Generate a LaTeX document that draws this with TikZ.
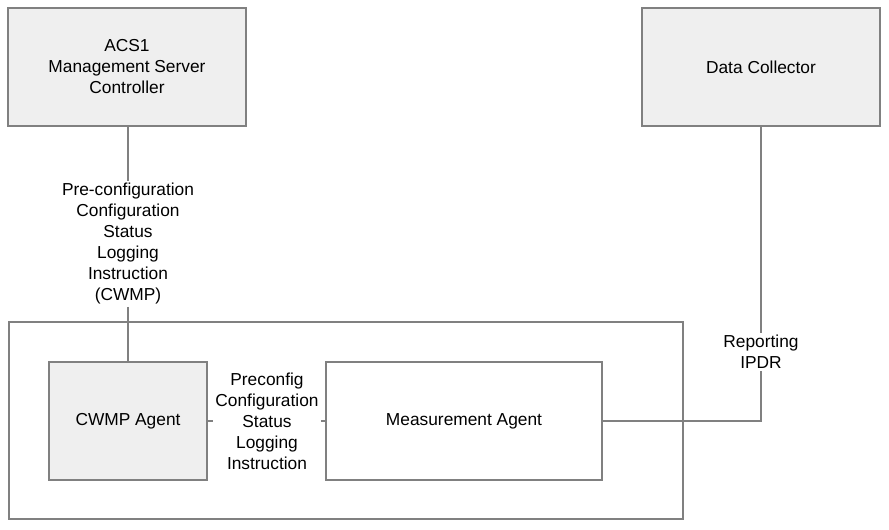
\documentclass[tikz,border=0pt]{standalone}
\usepackage{fontspec}
\setmainfont{Liberation Sans}
\usepackage{xcolor}
\usepackage{tikz}
\definecolor{TRLine}{HTML}{808080}
\definecolor{TRFill}{HTML}{EFEFEF}

\tikzset{
  srvbox/.style={draw=TRLine,fill=TRFill,line width=.8pt,minimum width=178.5pt,minimum height=88.5pt,align=center},
  agentbox/.style={draw=TRLine,line width=.8pt,minimum height=88.5pt,align=center},
  msg/.style={align=center,inner sep=1.5pt},
  link/.style={draw=TRLine,line width=.8pt}
}

\begin{document}
\begin{tikzpicture}[x=0.75pt,y=-0.75pt,font=\fontsize{13}{15.75}\selectfont]
\path[use as bounding box] (0,0) rectangle (889,530);
\fill[white] (0,0) rectangle (889,530);
% servers
\node[srvbox] (acs) at (127,67) {ACS1\\Management Server\\Controller};
\node[srvbox] (collector) at (761,67) {Data Collector};
% device
\node[draw=TRLine,line width=.8pt,minimum width=505.5pt,minimum height=147.75pt] (device) at (346,420.5) {};
\node[agentbox,fill=TRFill,minimum width=118.5pt] (cwmp) at (128,421) {CWMP Agent};
\node[agentbox,fill=white,minimum width=207pt] (ma) at (464,421) {Measurement Agent};
% messages
\node[msg] (cfgmsg) at (128,244) {Pre-configuration\\Configuration\\Status\\Logging\\Instruction\\(CWMP)};
\node[msg] (localmsg) at (267,421) {Preconfig\\Configuration\\Status\\Logging\\Instruction};
\node[msg] (repmsg) at (761,352) {Reporting\\IPDR};
% links
\draw[link] (acs.south -| cfgmsg) -- (cfgmsg.north);
\draw[link] (cfgmsg.south) -- (cfgmsg.south |- cwmp.north);
\draw[link] (cwmp.east) -- (localmsg.west);
\draw[link] (localmsg.east) -- (ma.west);
\draw[link] (ma.east) -| (repmsg.south);
\draw[link] (repmsg.north) -- (collector.south);
\end{tikzpicture}
\end{document}
